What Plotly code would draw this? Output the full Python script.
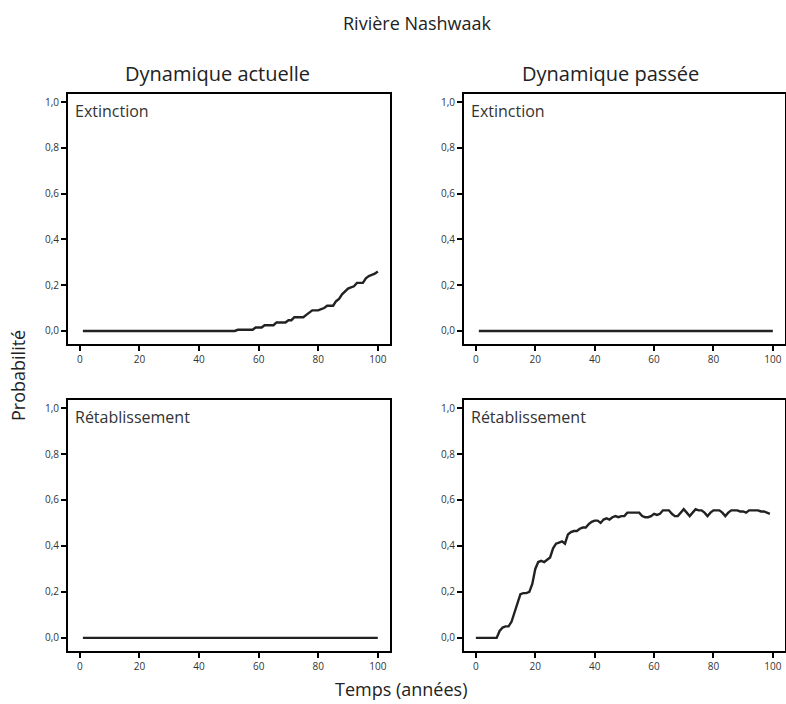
import plotly.graph_objects as go

# ---- data ----
years = list(range(1, 101))
years_passe = list(range(0, 100))

ext_actuelle = [0.0] * 52 + [0.005] * 6 + [0.015] * 3 + [0.025] * 4 + [0.037] * 4 + [0.047] * 2 + \
    [0.06] * 4 + [0.07, 0.08, 0.09, 0.09, 0.09, 0.095, 0.10, 0.11, 0.11, 0.11, 0.13, 0.14, 0.16,
                  0.175, 0.185, 0.19, 0.195, 0.21, 0.21, 0.21, 0.23, 0.24, 0.245, 0.25, 0.26]
ext_passee = [0.0] * 100
ret_actuelle = [0.0] * 100
ret_passee = [0, 0, 0, 0, 0, 0, 0, 0, 0.03, 0.045,
              0.05, 0.05, 0.07, 0.11, 0.16, 0.19, 0.195, 0.195, 0.20, 0.235,
              0.30, 0.33, 0.335, 0.33, 0.34, 0.35, 0.39, 0.41, 0.415, 0.42,
              0.41, 0.45, 0.46, 0.465, 0.465, 0.475, 0.48, 0.48, 0.495, 0.505,
              0.51, 0.51, 0.50, 0.515, 0.52, 0.515, 0.525, 0.53, 0.525, 0.53,
              0.53, 0.545, 0.545, 0.545, 0.545, 0.545, 0.53, 0.525, 0.525, 0.53,
              0.54, 0.535, 0.54, 0.555, 0.555, 0.555, 0.54, 0.53, 0.53, 0.545,
              0.56, 0.545, 0.53, 0.545, 0.56, 0.555, 0.555, 0.545, 0.53, 0.545,
              0.555, 0.555, 0.555, 0.545, 0.53, 0.545, 0.555, 0.555, 0.555, 0.55,
              0.55, 0.545, 0.555, 0.555, 0.555, 0.555, 0.55, 0.55, 0.545, 0.54]

x_tickvals = [0, 20, 40, 60, 80, 100]
x_ticktext = ["0", "20", "40", "60", "80", "100"]
y_tickvals = [0.0, 0.2, 0.4, 0.6, 0.8, 1.0]
y_ticktext = ["0,0", "0,2", "0,4", "0,6", "0,8", "1,0"]

col_titles = ["Dynamique actuelle", "Dynamique passée"]
row_labels = ["Extinction", "Rétablissement"]

FONT = "Open Sans"
W, H = 786, 704

fig = go.Figure()

panels = [
    ("x", "y", years, ext_actuelle, row_labels[0]),
    ("x2", "y2", years, ext_passee, row_labels[0]),
    ("x3", "y3", years, ret_actuelle, row_labels[1]),
    ("x4", "y4", years_passe, ret_passee, row_labels[1]),
]

for xa, ya, xs, ys, lab in panels:
    fig.add_trace(go.Scatter(x=xs, y=ys, xaxis=xa, yaxis=ya, mode="lines",
                             line=dict(color="#222222", width=2.4), showlegend=False,
                             hoverinfo="skip"))

xdoms = [[68 / W, 390 / W], [464 / W, 785 / W]]
ydoms = [[1 - 344 / H, 1 - 94 / H], [1 - 651 / H, 1 - 400 / H]]

axis_common = dict(showline=True, mirror=True, linecolor="black", linewidth=2,
                   ticks="outside", ticklen=5, tickwidth=2, tickcolor="black",
                   showgrid=False, zeroline=False,
                   tickfont=dict(family=FONT, size=10, color="#333333"))

layout = dict(width=W, height=H, margin=dict(l=0, r=0, t=0, b=0),
              plot_bgcolor="white", paper_bgcolor="white", showlegend=False)

for i in range(4):
    r, c = divmod(i, 2)
    sfx = "" if i == 0 else str(i + 1)
    layout["xaxis" + sfx] = dict(axis_common, domain=xdoms[c], range=[-4, 104.1],
                                 anchor="y" + sfx, tickvals=x_tickvals, ticktext=x_ticktext)
    layout["yaxis" + sfx] = dict(axis_common, domain=ydoms[r], range=[-0.057, 1.035],
                                 anchor="x" + sfx, tickvals=y_tickvals, ticktext=y_ticktext)

fig.update_layout(**layout)

ann = []
for i, (_, _, _, _, lab) in enumerate(panels):
    sfx = "" if i == 0 else str(i + 1)
    ann.append(dict(text=lab, xref="x" + sfx + " domain", yref="y" + sfx + " domain",
                    x=0.015, y=0.985, xanchor="left", yanchor="top", showarrow=False,
                    font=dict(family=FONT, size=16, color="#333333")))

ann.append(dict(text="Rivière Nashwaak", xref="paper", yref="paper", x=417 / W, y=1 - 23 / H,
                xanchor="center", yanchor="middle", showarrow=False,
                font=dict(family=FONT, size=18, color="#222222")))
ann.append(dict(text=col_titles[0], xref="paper", yref="paper", x=218 / W, y=1 - 73 / H,
                xanchor="center", yanchor="middle", showarrow=False,
                font=dict(family=FONT, size=20, color="#222222")))
ann.append(dict(text=col_titles[1], xref="paper", yref="paper", x=610 / W, y=1 - 73 / H,
                xanchor="center", yanchor="middle", showarrow=False,
                font=dict(family=FONT, size=20, color="#222222")))
ann.append(dict(text="Temps (années)", xref="paper", yref="paper", x=401 / W, y=1 - 689 / H,
                xanchor="center", yanchor="middle", showarrow=False,
                font=dict(family=FONT, size=18, color="#222222")))
ann.append(dict(text="Probabilité", xref="paper", yref="paper", x=18 / W, y=1 - 376 / H,
                xanchor="center", yanchor="middle", showarrow=False, textangle=-90,
                font=dict(family=FONT, size=18, color="#222222")))

fig.update_layout(annotations=ann)
fig.write_html("out.html", config={"displayModeBar": False},
               post_script="document.body.style.margin='0';"
               "document.body.style.overflow='hidden';")
